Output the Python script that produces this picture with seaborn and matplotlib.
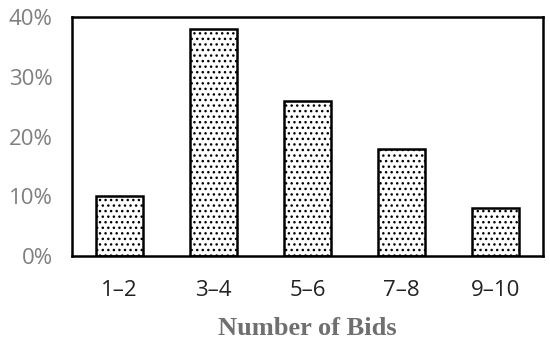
import matplotlib
matplotlib.use("Agg")
import matplotlib.pyplot as plt
import seaborn as sns
import pandas as pd
from matplotlib.ticker import FuncFormatter

bids = ["1\u20132", "3\u20134", "5\u20136", "7\u20138", "9\u201310"]
share = [10, 38, 26, 18, 8]

df = pd.DataFrame({"Bids": bids, "Share": share})

sns.set_style("white")
plt.rcParams["hatch.linewidth"] = 1.0
plt.rcParams["hatch.color"] = "black"

fig = plt.figure(figsize=(5.5, 3.41), dpi=100)
ax = fig.add_axes([0.131, 0.249, 0.856, 0.701])

sns.barplot(data=df, x="Bids", y="Share", ax=ax, color="white",
            edgecolor="black", linewidth=1.8, width=0.5, hatch="...")

ax.set_ylim(0, 40)
ax.set_xlim(-0.5, 4.5)
ax.set_yticks([0, 10, 20, 30, 40])
ax.yaxis.set_major_formatter(FuncFormatter(lambda v, p: "{:d}%".format(int(v))))

for s in ax.spines.values():
    s.set_visible(True)
    s.set_color("black")
    s.set_linewidth(1.8)

ax.tick_params(axis="y", length=0, pad=14)
ax.tick_params(axis="x", length=0, pad=17)
for t in ax.get_yticklabels():
    t.set_color("#7f7f7f")
    t.set_fontsize(16)
    t.set_fontfamily("Open Sans")
for t in ax.get_xticklabels():
    t.set_color("#222222")
    t.set_fontsize(16)
    t.set_fontfamily("Open Sans")

ax.set_ylabel("")
ax.set_xlabel("Number of Bids", fontsize=19, fontweight="bold",
              color="#6f6f6f", family="Liberation Serif", labelpad=12)

fig.savefig("out.png", dpi=100)
